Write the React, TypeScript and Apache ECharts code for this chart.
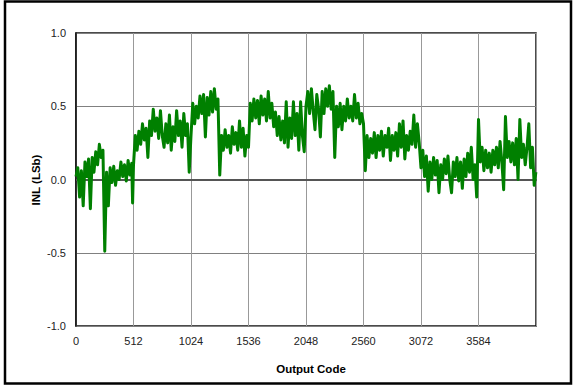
import React, { useEffect, useRef } from "react";
import * as echarts from "echarts";

// INL vs output code: [code, INL (LSb)]
const inlBlock0: [number, number][] = [
  [0, 0.02], [16, 0.08], [32, -0.12], [48, 0.06], [64, -0.18], [80, 0.12], [96, 0.02], [112, 0.14],
  [128, -0.2], [144, 0.15], [160, 0.05], [176, 0.19], [192, 0.1], [208, 0.24], [224, 0.15], [240, 0.2],
  [256, -0.49], [272, 0.05], [288, -0.18], [304, 0.08], [320, -0.02], [336, 0.09], [352, -0.04], [368, 0.06],
  [384, 0.0], [400, 0.12], [416, 0.02], [432, 0.1], [448, -0.01], [464, 0.13], [480, 0.03], [496, 0.11], [504, -0.16],
];
const inlBlock1: [number, number][] = [
  [512, 0.1], [528, 0.3], [544, 0.2], [560, 0.33], [576, 0.24], [592, 0.38], [608, 0.27], [624, 0.35],
  [640, 0.15], [656, 0.4], [672, 0.3], [688, 0.48], [704, 0.33], [720, 0.42], [736, 0.28], [752, 0.47],
  [768, 0.3], [784, 0.22], [800, 0.38], [816, 0.25], [832, 0.44], [848, 0.2], [864, 0.36], [880, 0.26],
  [896, 0.47], [912, 0.3], [928, 0.4], [944, 0.22], [960, 0.45], [976, 0.3], [992, 0.38], [1008, 0.05],
];
const inlBlock2: [number, number][] = [
  [1024, 0.3], [1040, 0.52], [1056, 0.38], [1072, 0.5], [1088, 0.42], [1104, 0.57], [1120, 0.45], [1136, 0.58],
  [1152, 0.29], [1168, 0.56], [1184, 0.44], [1200, 0.6], [1216, 0.46], [1232, 0.62], [1248, 0.48], [1264, 0.55],
  [1280, 0.03], [1296, 0.3], [1312, 0.2], [1328, 0.34], [1344, 0.22], [1360, 0.3], [1376, 0.18], [1392, 0.36],
  [1408, 0.24], [1424, 0.32], [1440, 0.2], [1456, 0.4], [1472, 0.22], [1488, 0.35], [1504, 0.16], [1520, 0.3],
];
const inlBlock3: [number, number][] = [
  [1536, 0.22], [1552, 0.52], [1568, 0.4], [1584, 0.55], [1600, 0.42], [1616, 0.54], [1632, 0.38], [1648, 0.57],
  [1664, 0.44], [1680, 0.55], [1696, 0.4], [1712, 0.6], [1728, 0.42], [1744, 0.52], [1760, 0.36], [1776, 0.46],
  [1792, 0.3], [1808, 0.43], [1824, 0.27], [1840, 0.4], [1856, 0.25], [1872, 0.53], [1888, 0.22], [1904, 0.42],
  [1920, 0.28], [1936, 0.53], [1952, 0.3], [1968, 0.45], [1984, 0.2], [2000, 0.53], [2016, 0.3], [2032, 0.19],
];
const inlBlock4: [number, number][] = [
  [2048, 0.5], [2064, 0.6], [2080, 0.45], [2096, 0.62], [2112, 0.47], [2128, 0.34], [2144, 0.58], [2160, 0.48],
  [2176, 0.29], [2192, 0.6], [2208, 0.45], [2224, 0.62], [2240, 0.5], [2256, 0.64], [2272, 0.48], [2288, 0.6],
  [2304, 0.15], [2320, 0.5], [2336, 0.36], [2352, 0.52], [2368, 0.34], [2384, 0.5], [2400, 0.4], [2416, 0.55],
  [2432, 0.42], [2448, 0.5], [2464, 0.4], [2480, 0.58], [2496, 0.42], [2512, 0.52], [2528, 0.38], [2544, 0.45],
];
const inlBlock5: [number, number][] = [
  [2560, 0.38], [2576, 0.06], [2592, 0.3], [2608, 0.15], [2624, 0.28], [2640, 0.18], [2656, 0.32], [2672, 0.15],
  [2688, 0.3], [2704, 0.2], [2720, 0.33], [2736, 0.16], [2752, 0.3], [2768, 0.22], [2784, 0.35], [2800, 0.13],
  [2816, 0.3], [2832, 0.2], [2848, 0.32], [2864, 0.16], [2880, 0.38], [2896, 0.22], [2912, 0.4], [2928, 0.14],
  [2944, 0.3], [2960, 0.2], [2976, 0.33], [2992, 0.24], [3008, 0.44], [3024, 0.22], [3040, 0.38], [3056, 0.25],
];
const inlBlock6: [number, number][] = [
  [3072, 0.08], [3088, 0.2], [3104, 0.02], [3120, 0.16], [3136, -0.08], [3152, 0.12], [3168, 0.0], [3184, 0.15],
  [3200, 0.03], [3216, 0.13], [3232, -0.09], [3248, 0.1], [3264, 0.0], [3280, 0.14], [3296, 0.04], [3312, 0.16],
  [3328, 0.0], [3344, -0.09], [3360, 0.12], [3376, 0.02], [3392, 0.15], [3408, -0.01], [3424, 0.12], [3440, -0.06],
  [3456, 0.14], [3472, 0.02], [3488, 0.18], [3504, 0.05], [3520, 0.22], [3536, 0.0], [3552, 0.1], [3568, -0.12],
];
const inlBlock7: [number, number][] = [
  [3584, 0.41], [3600, 0.12], [3616, 0.22], [3632, 0.06], [3648, 0.2], [3664, 0.08], [3680, 0.18], [3696, 0.05],
  [3712, 0.2], [3728, 0.1], [3744, 0.22], [3760, 0.08], [3776, 0.26], [3792, 0.12], [3808, -0.07], [3824, 0.43],
  [3840, 0.15], [3856, 0.26], [3872, 0.12], [3888, 0.25], [3904, 0.1], [3920, 0.28], [3936, 0.0], [3952, 0.41],
  [3968, 0.15], [3984, 0.24], [4000, 0.1], [4016, 0.22], [4032, 0.38], [4048, 0.08], [4064, 0.22], [4080, -0.04],
  [4095, 0.05],
];

const xTicks = [0, 512, 1024, 1536, 2048, 2560, 3072, 3584];
const yTicks = [-1.0, -0.5, 0.0, 0.5, 1.0];
const xTitle = "Output Code";
const yTitle = "INL (LSb)";

export default function App() {
  const ref = useRef<HTMLDivElement>(null);
  useEffect(() => {
    if (!ref.current) return;
    const chart = echarts.init(ref.current, undefined, { renderer: "svg" });
    const data = [
      ...inlBlock0, ...inlBlock1, ...inlBlock2, ...inlBlock3,
      ...inlBlock4, ...inlBlock5, ...inlBlock6, ...inlBlock7,
    ];
    const font = "Liberation Sans, Arial, sans-serif";
    chart.setOption({
      animation: false,
      backgroundColor: "#fff",
      grid: {
        left: 76, right: 37, top: 33, bottom: 59,
        show: true, borderColor: "#111", borderWidth: 1.5, backgroundColor: "transparent",
      },
      xAxis: {
        type: "value",
        min: 0,
        max: 4096,
        interval: 512,
        axisLine: { show: true, lineStyle: { color: "#111", width: 1.5 } },
        axisTick: { show: false },
        splitLine: { show: true, lineStyle: { color: "#999", width: 1 } },
        axisLabel: {
          color: "#222", fontFamily: font, fontSize: 11, margin: 9,
          formatter: (v: number) => (xTicks.includes(v) ? String(v) : ""),
        },
      },
      yAxis: {
        type: "value",
        min: yTicks[0],
        max: yTicks[yTicks.length - 1],
        interval: 0.5,
        axisLine: { show: true, lineStyle: { color: "#111", width: 1.5 } },
        axisTick: { show: false },
        splitLine: { show: true, lineStyle: { color: "#808080", width: 1 } },
        axisLabel: {
          color: "#222", fontFamily: font, fontSize: 11, margin: 10,
          formatter: (v: number) => v.toFixed(1),
        },
      },
      graphic: [
        {
          type: "rect",
          shape: { x: 5, y: 1.5, width: 566, height: 382 },
          style: { fill: "none", stroke: "#000", lineWidth: 2.5 },
          silent: true,
        },
        {
          type: "text",
          x: 36, y: 180, rotation: Math.PI / 2,
          style: {
            text: yTitle, fill: "#000", font: `bold 11.5px ${font}`,
            textAlign: "center", textVerticalAlign: "middle",
          },
        },
        {
          type: "text",
          x: 311, y: 369,
          style: {
            text: xTitle, fill: "#000", font: `bold 11.5px ${font}`,
            textAlign: "center", textVerticalAlign: "middle",
          },
        },
      ],
      series: [
        {
          type: "line",
          data,
          showSymbol: false,
          symbol: "none",
          lineStyle: { color: "#008000", width: 3, join: "round" },
          z: 3,
          markLine: {
            silent: true,
            symbol: "none",
            label: { show: false },
            lineStyle: { color: "#555", width: 2, type: "solid" },
            data: [{ yAxis: 0 }],
            z: 2,
          },
        },
      ],
    });
    return () => chart.dispose();
  }, []);
  return (
    <div
      ref={ref}
      style={{ position: "fixed", left: 0, top: 0, width: 573, height: 385, background: "#fff" }}
    />
  );
}
